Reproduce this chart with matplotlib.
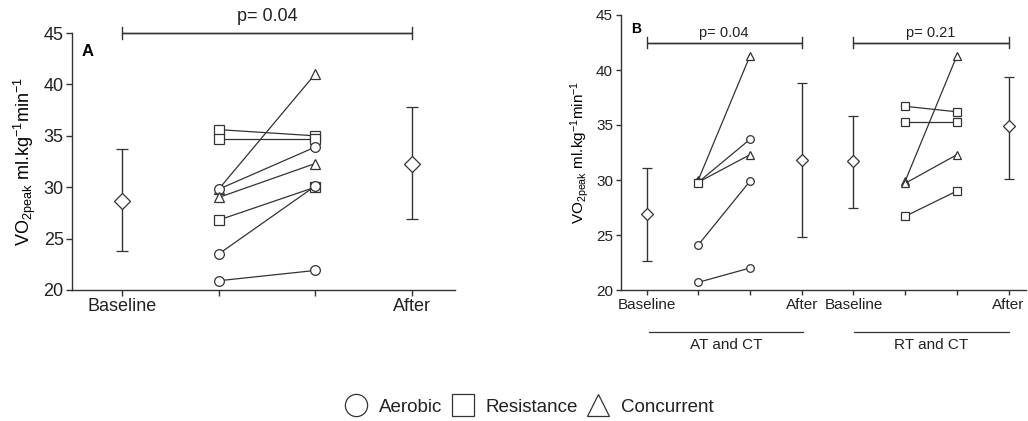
import matplotlib.pyplot as plt
import matplotlib.transforms as mtransforms
from matplotlib.lines import Line2D
import numpy as np

plt.rcParams['font.family'] = ['Liberation Sans', 'DejaVu Sans']
plt.rcParams['mathtext.fontset'] = 'custom'
plt.rcParams['mathtext.rm'] = 'Liberation Sans'
plt.rcParams['mathtext.it'] = 'Liberation Sans'

INK = '#333333'
MK = {'Aerobic': 'o', 'Resistance': 's', 'Concurrent': '^'}

# --------------- panel A data ------------------
a_labels = ['Baseline', '', '', 'After']
a_summary_x = [0, 3]
a_mean = [28.7, 32.3]
a_low = [23.8, 26.9]
a_high = [33.7, 37.8]
a_type = ['Resistance', 'Resistance', 'Concurrent', 'Aerobic', 'Concurrent',
          'Resistance', 'Aerobic', 'Aerobic']
a_pre = [35.6, 34.7, 29.8, 29.8, 29.0, 26.8, 23.5, 20.9]
a_post = [35.0, 34.7, 41.0, 33.9, 32.3, 30.0, 30.1, 21.9]
a_pvalue = 'p= 0.04'

# --------------- panel B data ------------------
b_labels = ['Baseline', '', '', 'After', 'Baseline', '', '', 'After']
b_summary_x = [0, 3, 4, 7]
b_mean = [26.9, 31.8, 31.7, 34.9]
b_low = [22.6, 24.8, 27.5, 30.1]
b_high = [31.1, 38.8, 35.8, 39.4]

b1_type = ['Concurrent', 'Aerobic', 'Concurrent', 'Resistance', 'Aerobic', 'Aerobic']
b1_pre = [30.0, 29.8, 29.8, 29.7, 24.1, 20.7]
b1_post = [41.3, 33.7, 32.3, np.nan, 29.9, 22.0]

b2_type = ['Resistance', 'Resistance', 'Concurrent', 'Concurrent', 'Resistance']
b2_pre = [36.7, 35.3, 29.9, 29.7, 26.7]
b2_post = [36.2, 35.3, 41.3, 32.3, 29.0]

b_groups = ['AT and CT', 'RT and CT']
b_pvalues = ['p= 0.04', 'p= 0.21']

ylabel = r'VO$_{\mathrm{2peak}}$ ml.kg$^{\mathrm{-1}}$min$^{\mathrm{-1}}$'


def style_axis(ax, xticks, labels, xlim, fs, ticklen):
    for s in ['top', 'right']:
        ax.spines[s].set_visible(False)
    for s in ['left', 'bottom']:
        ax.spines[s].set_color(INK)
        ax.spines[s].set_linewidth(1.0)
    ax.set_xlim(*xlim)
    ax.set_ylim(20, 45)
    ax.set_yticks([20, 25, 30, 35, 40, 45])
    ax.set_xticks(xticks)
    ax.set_xticklabels(labels)
    ax.tick_params(direction='out', length=ticklen, width=1.0, color=INK,
                   labelsize=fs, labelcolor='#222222', pad=2)


def pairs(ax, x0, x1, types, pre, post, ms):
    for t, p0, p1 in zip(types, pre, post):
        ax.plot([x0, x1], [p0, p1], color=INK, lw=0.9, marker=MK[t], ms=ms,
                mfc='white', mec=INK, mew=0.9, zorder=3)


def summary(ax, xs, mean, low, high, ms, cap):
    mean = np.array(mean)
    yerr = [mean - np.array(low), np.array(high) - mean]
    ax.errorbar(xs, mean, yerr=yerr, fmt='D', ms=ms, mfc='white', mec=INK, mew=0.9,
                ecolor=INK, elinewidth=1.0, capsize=cap, capthick=1.0, zorder=3)


def sig_bar(ax, x0, x1, y, h, text, ty, fs):
    ax.plot([x0, x0, x1, x1], [y - h, y, y, y - h], color=INK, lw=1.0, clip_on=False)
    ax.plot([x0, x0, x1, x1], [y + h, y, y, y + h], color=INK, lw=1.0, clip_on=False)
    ax.text((x0 + x1) / 2, ty, text, ha='center', va='center', fontsize=fs,
            color='#222222', clip_on=False)


fig = plt.figure(figsize=(10.28, 4.21), dpi=100)

# --------------- panel A ------------------
axA = fig.add_axes([72 / 1028, 131 / 421, 383 / 1028, 257 / 421])
style_axis(axA, range(4), a_labels, (-0.52, 3.45), 13, 4)
pairs(axA, 1, 2, a_type, a_pre, a_post, 7)
summary(axA, a_summary_x, a_mean, a_low, a_high, 8, 4.5)
sig_bar(axA, 0, 3, 45, 0.6, a_pvalue, 46.6, 13)
axA.text(-0.42, 43.2, 'A', fontsize=12, fontweight='bold', ha='left', va='center')
axA.set_ylabel(ylabel, fontsize=13, labelpad=4)

# --------------- panel B ------------------
axB = fig.add_axes([620.7 / 1028, 131 / 421, 405 / 1028, 275 / 421])
style_axis(axB, range(8), b_labels, (-0.5, 7.33), 11, 3.5)
pairs(axB, 1, 2, b1_type, b1_pre, b1_post, 5.5)
pairs(axB, 5, 6, b2_type, b2_pre, b2_post, 5.5)
summary(axB, b_summary_x, b_mean, b_low, b_high, 6.5, 3.3)
sig_bar(axB, 0, 3, 42.5, 0.5, b_pvalues[0], 43.4, 10.5)
sig_bar(axB, 4, 7, 42.5, 0.5, b_pvalues[1], 43.4, 10.5)
axB.text(-0.3, 43.7, 'B', fontsize=10, fontweight='bold', ha='left', va='center')
axB.set_ylabel(ylabel, fontsize=11, labelpad=4)

trans = mtransforms.blended_transform_factory(axB.transData, axB.transAxes)
for (g0, g1), name in zip([(0.05, 3.02), (4.02, 7.0)], b_groups):
    axB.plot([g0, g1], [-0.153, -0.153], color=INK, lw=0.9, transform=trans, clip_on=False)
    axB.text((g0 + g1) / 2, -0.2, name, transform=trans, ha='center', va='center',
             fontsize=11, color='#222222')

# --------------- legend ------------------
handles = [Line2D([], [], ls='none', marker=MK[k], ms=16, mfc='white', mec=INK, mew=0.9)
           for k in MK]
fig.legend(handles, list(MK), loc='center', bbox_to_anchor=(529 / 1028, 1 - 407 / 421),
           ncol=3, frameon=False, fontsize=13.5, handlelength=1.2, handletextpad=0.6,
           columnspacing=0.5, borderpad=0, labelcolor='#222222')

fig.savefig('out.png', dpi=100)
